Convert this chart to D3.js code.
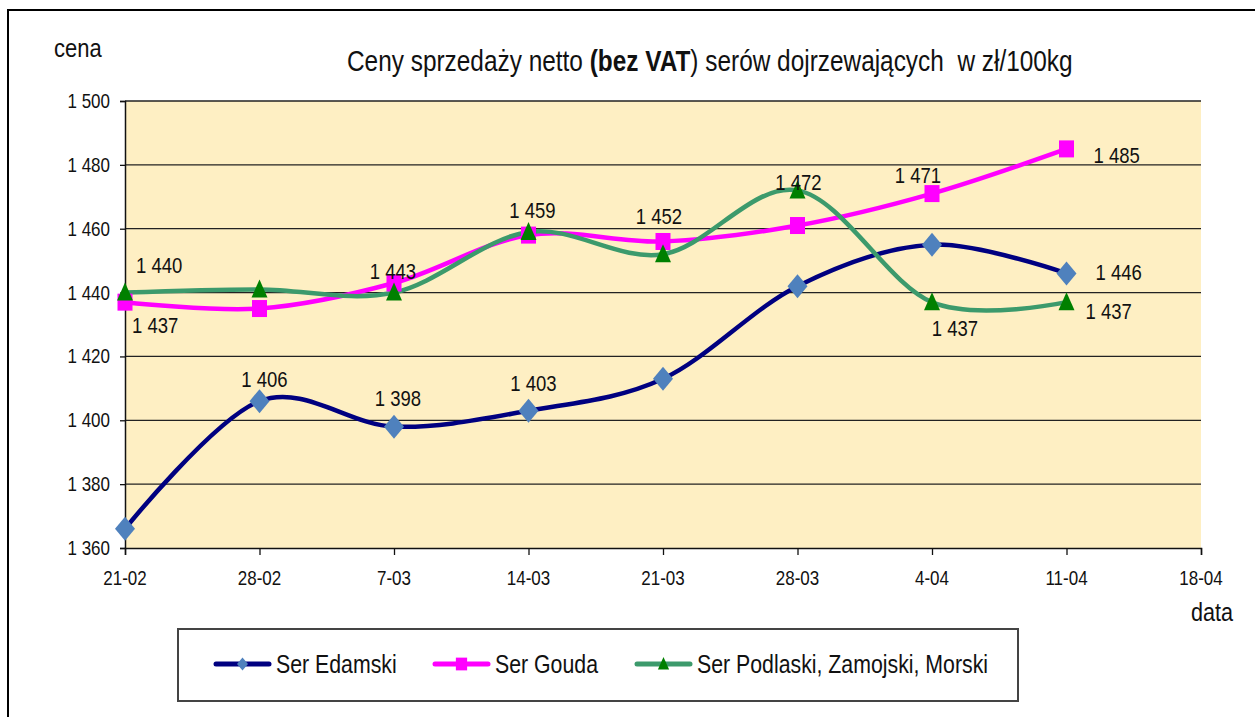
<!DOCTYPE html>
<html><head><meta charset="utf-8">
<script src="https://cdn.jsdelivr.net/npm/d3@7"></script>
<style>
html,body{margin:0;padding:0;background:#fff;}
svg text{font-family:"Liberation Sans",Arial,sans-serif;fill:#111;white-space:pre;}
</style></head>
<body>
<svg id="c" width="1255" height="717"></svg>
<script>
// ---- data ----
const dates = ["21-02","28-02","7-03","14-03","21-03","28-03","4-04","11-04","18-04"];
const edamski  = [1366, 1406, 1398, 1403, 1413, 1442, 1455, 1446];
const gouda    = [1437, 1435, 1443, 1458, 1456, 1461, 1471, 1485];
const podlaski = [1440, 1441, 1440, 1459, 1452, 1472, 1437, 1437];
const seriesNames = ["Ser Edamski", "Ser Gouda", "Ser Podlaski, Zamojski, Morski"];
const yTicks = [1360, 1380, 1400, 1420, 1440, 1460, 1480, 1500];
// which points carry a value label (index)
const labelsEdamski  = [1, 2, 3, 7];
const labelsGouda    = [0, 2, 6, 7];
const labelsPodlaski = [0, 3, 4, 5, 6, 7];

const SY = 1.2; // vertical text stretch of the reference
const fmt = v => d3.format(",")(v).replace(/,/g, " ");

const svg = d3.select("#c");
function txt(x, y, str, size, anchor, g) {
  return (g || svg).append("text")
    .attr("transform", `translate(${x},${y}) scale(1,${SY})`)
    .attr("font-size", size)
    .attr("text-anchor", anchor || "start")
    .text(str);
}

// outer border
svg.append("rect").attr("x", 8).attr("y", 10).attr("width", 1300).attr("height", 800)
  .attr("fill", "#fff").attr("stroke", "#000").attr("stroke-width", 2);

const L = 125, R = 1201, T = 101, B = 548;
const x = d3.scalePoint().domain(dates).range([L, R]);
const y = d3.scaleLinear().domain([1360, 1500]).range([B, T]);

// plot area
svg.append("rect").attr("x", L).attr("y", T).attr("width", R - L).attr("height", B - T).attr("fill", "#FEEFC3");

// gridlines
svg.append("g").selectAll("line").data(yTicks.filter(t => t > 1360)).join("line")
  .attr("x1", L).attr("x2", R).attr("y1", d => y(d)).attr("y2", d => y(d))
  .attr("stroke", "#222").attr("stroke-width", 1.3);

// axes
const yAxis = svg.append("g").attr("transform", `translate(${L},0)`)
  .call(d3.axisLeft(y).tickValues(yTicks).tickSize(5).tickPadding(8).tickFormat(fmt));
const xAxis = svg.append("g").attr("transform", `translate(0,${B})`)
  .call(d3.axisBottom(x).tickSize(7).tickPadding(6));
[yAxis, xAxis].forEach(a => {
  a.select(".domain").attr("stroke", "#111").attr("stroke-width", 1.5);
  a.selectAll(".tick line").attr("stroke", "#111").attr("stroke-width", 1.3);
  a.selectAll("text").remove();
});
yTicks.forEach(t => txt(L - 15, y(t) + 7, fmt(t), 17, "end"));
dates.forEach(d => txt(x(d), B + 37, d, 17, "middle"));

// axis titles & title
txt(54, 57, "cena", 22);
txt(1191, 621, "data", 21.6);
const title = svg.append("text")
  .attr("transform", `translate(347,71) scale(1,${SY})`).attr("font-size", 24.4);
title.append("tspan").text("Ceny sprzedaży netto ");
title.append("tspan").attr("font-weight", "bold").text("(bez VAT");
title.append("tspan").text(") serów dojrzewających  w zł/100kg");

// markers
function diamond(g, cx, cy, fill, k) {
  k = k || 1;
  g.append("path").attr("d", `M${cx},${cy-12*k}L${cx+10*k},${cy}L${cx},${cy+12*k}L${cx-10*k},${cy}Z`).attr("fill", fill);
}
function square(g, cx, cy, fill, k) {
  k = k || 1;
  g.append("rect").attr("x", cx - 7.5*k).attr("y", cy - 8.5*k).attr("width", 15*k).attr("height", 17*k).attr("fill", fill);
}
function triangle(g, cx, cy, fill, k) {
  k = k || 1;
  g.append("path").attr("d", `M${cx},${cy-10*k}L${cx+8*k},${cy+8*k}L${cx-8*k},${cy+8*k}Z`).attr("fill", fill);
}

const series = [
  {name: seriesNames[0], vals: edamski, line: "#000080", mfill: "#4F81BD", marker: diamond, labels: labelsEdamski, lk: 0.55},
  {name: seriesNames[1], vals: gouda, line: "#FF00FF", mfill: "#FF00FF", marker: square, labels: labelsGouda, lk: 0.75},
  {name: seriesNames[2], vals: podlaski, line: "#3C9A6C", mfill: "#008000", marker: triangle, labels: labelsPodlaski, lk: 0.7}
];

const line = d3.line().x((d, i) => x(dates[i])).y(d => y(d)).curve(d3.curveCardinal.tension(0));
const plot = svg.append("g");
series.forEach(s => {
  plot.append("path").attr("d", line(s.vals)).attr("fill", "none")
    .attr("stroke", s.line).attr("stroke-width", 4.5).attr("stroke-linejoin", "round");
});
series.forEach(s => {
  s.vals.forEach((v, i) => s.marker(plot, x(dates[i]), y(v), s.mfill));
});

// value label placement (dx, dy from the point, anchor)
const place = {
  0: {1: [5, -14, "middle"], 2: [4, -21, "middle"], 3: [5, -20, "middle"], 7: [29, 7, "start"]},
  1: {0: [7, 31, "start"], 2: [-1, -4, "middle"], 6: [-14, -11, "middle"], 7: [27, 14, "start"]},
  2: {0: [11, -20, "start"], 3: [4, -14, "middle"], 4: [-4, -30, "middle"], 5: [1, 0, "middle"], 6: [23, 34, "middle"], 7: [19, 17, "start"]}
};
series.forEach((s, si) => {
  s.labels.forEach(i => {
    const p = place[si][i];
    txt(x(dates[i]) + p[0], y(s.vals[i]) + p[1], fmt(s.vals[i]), 18.5, p[2]);
  });
});

// legend
svg.append("rect").attr("x", 178).attr("y", 629).attr("width", 840).attr("height", 72)
  .attr("fill", "#fff").attr("stroke", "#444").attr("stroke-width", 2);
const legX = [216, 435, 637];
series.forEach((s, i) => {
  const lg = svg.append("g");
  const x0 = legX[i], ly = 664;
  lg.append("line").attr("x1", x0).attr("x2", x0 + 53).attr("y1", ly).attr("y2", ly)
    .attr("stroke", s.line).attr("stroke-width", 5).attr("stroke-linecap", "round");
  s.marker(lg, x0 + 26.5, ly, s.mfill, s.lk);
  txt(x0 + 60, 673, s.name, 21.3, "start", lg);
});
</script>
</body></html>
